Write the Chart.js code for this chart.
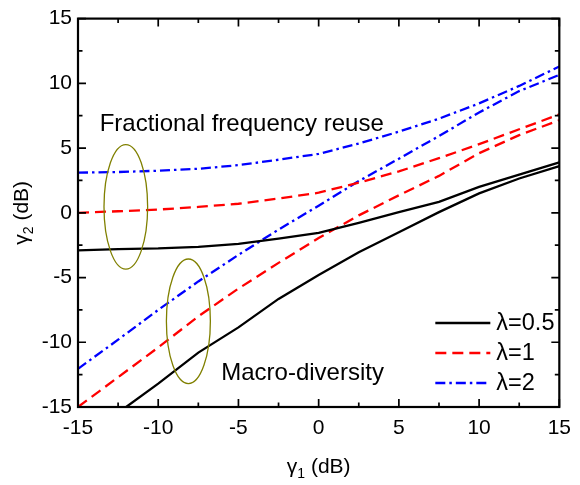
<!DOCTYPE html>
<html>
<head>
<meta charset="utf-8">
<script src="https://cdn.jsdelivr.net/npm/chart.js@4/dist/chart.umd.min.js"></script>
<style>
  html, body { margin: 0; padding: 0; background: #fff; }
  #c { display: block; }
</style>
</head>
<body>
<canvas id="c" width="580" height="485"></canvas>
<script>
// γ1 sample points (dB) shared by most curves
const gamma1 = [-15, -12.5, -10, -7.5, -5, -2.5, 0, 2.5, 5, 7.5, 10, 12.5, 15];

// Fractional frequency reuse boundaries, γ2 (dB)
const ffrHalf = [-2.9, -2.8, -2.75, -2.63, -2.4, -2.0, -1.55, -0.78, 0.05, 0.85, 2.0, 2.95, 3.9];
const ffrOne  = [0.0, 0.12, 0.25, 0.45, 0.7, 1.1, 1.55, 2.33, 3.2, 4.22, 5.3, 6.45, 7.6];
const ffrTwo  = [3.1, 3.15, 3.25, 3.4, 3.68, 4.1, 4.55, 5.35, 6.27, 7.27, 8.45, 9.8, 11.3];

// Macro-diversity boundaries, γ2 (dB)
const mdHalfX = [-12, -10, -7.5, -5, -2.5, 0, 2.5, 5, 7.5, 10, 12.5, 15];
const mdHalf  = [-15, -13.2, -10.8, -8.85, -6.65, -4.8, -3.05, -1.5, 0.05, 1.5, 2.65, 3.6];
const mdOne   = [-15, -12.7, -10.4, -8.0, -5.85, -3.87, -1.95, -0.2, 1.35, 2.85, 4.6, 6.0, 7.15];
const mdTwo   = [-12.05, -9.8, -7.5, -5.3, -3.25, -1.3, 0.55, 2.45, 4.18, 5.93, 7.75, 9.4, 10.65];

// Series names
const lambdaLabels = ['λ=0.5', 'λ=1', 'λ=2'];

// Axis ticks
const majorTicks = [-15, -10, -5, 0, 5, 10, 15];
const minorTicks = [-12.5, -7.5, -2.5, 2.5, 7.5, 12.5];

// Axis titles: symbol, subscript, unit
const xTitle = ['γ', '1', ' (dB)'];
const yTitle = ['γ', '2', ' (dB)'];

// Region notes and the ellipses grouping each family of curves
const regionNames = ['Fractional frequency reuse', 'Macro-diversity'];
const regionX = [-13.65, -6.07];
const regionY = [6.32, -12.89];
const ringX  = [-12.02, -8.12];
const ringY  = [0.46, -8.38];
const ringRx = [1.36, 1.37];
const ringRy = [4.81, 4.81];

const FONT = '"Liberation Sans", Arial, Helvetica, sans-serif';

const pts = (xs, ys) => xs.map((x, i) => ({ x, y: ys[i] }));

const styles = [
  { borderColor: '#000000', borderDash: [] },
  { borderColor: '#ff0000', borderDash: [11, 6] },
  { borderColor: '#0000ff', borderDash: [10, 4, 2.5, 4] }
];

const mk = (label, data, st) => ({
  label, data,
  borderColor: st.borderColor,
  borderDash: st.borderDash,
  borderWidth: 2.3,
  pointRadius: 0,
  tension: 0,
  fill: false
});

const datasets = [
  mk(lambdaLabels[0], pts(gamma1, ffrHalf), styles[0]),
  mk(lambdaLabels[1], pts(gamma1, ffrOne), styles[1]),
  mk(lambdaLabels[2], pts(gamma1, ffrTwo), styles[2]),
  mk(lambdaLabels[0], pts(mdHalfX, mdHalf), styles[0]),
  mk(lambdaLabels[1], pts(gamma1, mdOne), styles[1]),
  mk(lambdaLabels[2], pts(gamma1, mdTwo), styles[2])
];

// Axis title with a true subscript, centred at (cx, baseline) and rotated by rot
function subTitle(ctx, parts, cx, base, rot) {
  const big = '21px ' + FONT, small = '14px ' + FONT;
  ctx.save();
  ctx.translate(cx, base);
  ctx.rotate(rot);
  ctx.textAlign = 'left';
  ctx.textBaseline = 'alphabetic';
  ctx.fillStyle = '#000';
  ctx.font = big;  const w0 = ctx.measureText(parts[0]).width;
  ctx.font = small; const w1 = ctx.measureText(parts[1]).width;
  ctx.font = big;  const w2 = ctx.measureText(parts[2]).width;
  let x = -(w0 + w1 + w2) / 2;
  ctx.font = big;   ctx.fillText(parts[0], x, 0); x += w0;
  ctx.font = small; ctx.fillText(parts[1], x, 5); x += w1;
  ctx.font = big;   ctx.fillText(parts[2], x, 0);
  ctx.restore();
}

const decorations = {
  id: 'decorations',
  afterDatasetsDraw(chart) {
    const { ctx, chartArea: a, scales: { x, y } } = chart;
    ctx.save();

    // ellipses
    ctx.strokeStyle = '#808000';
    ctx.lineWidth = 1.3;
    ctx.setLineDash([]);
    ringX.forEach((cx, i) => {
      const px = x.getPixelForValue(cx);
      const py = y.getPixelForValue(ringY[i]);
      const rx = Math.abs(x.getPixelForValue(cx + ringRx[i]) - px);
      const ry = Math.abs(y.getPixelForValue(ringY[i] + ringRy[i]) - py);
      ctx.beginPath();
      ctx.ellipse(px, py, rx, ry, 0, 0, Math.PI * 2);
      ctx.stroke();
    });

    // region notes
    ctx.fillStyle = '#000';
    ctx.font = '24px ' + FONT;
    ctx.textAlign = 'left';
    ctx.textBaseline = 'alphabetic';
    regionNames.forEach((t, i) => {
      ctx.fillText(t, x.getPixelForValue(regionX[i]), y.getPixelForValue(regionY[i]));
    });

    // frame
    ctx.strokeStyle = '#000';
    ctx.lineWidth = 2.2;
    ctx.strokeRect(a.left, a.top, a.right - a.left, a.bottom - a.top);

    // inward tick marks on all four sides
    ctx.lineWidth = 1.7;
    const tick = (vals, len) => {
      vals.forEach(v => {
        const px = x.getPixelForValue(v);
        const py = y.getPixelForValue(v);
        ctx.beginPath();
        ctx.moveTo(px, a.bottom); ctx.lineTo(px, a.bottom - len);
        ctx.moveTo(px, a.top); ctx.lineTo(px, a.top + len);
        ctx.moveTo(a.left, py); ctx.lineTo(a.left + len, py);
        ctx.moveTo(a.right, py); ctx.lineTo(a.right - len, py);
        ctx.stroke();
      });
    };
    tick(majorTicks, 8);
    tick(minorTicks, 4.5);

    // axis titles
    subTitle(ctx, xTitle, (a.left + a.right) / 2, x.bottom - 12, 0);
    subTitle(ctx, yTitle, y.left + 28, (a.top + a.bottom) / 2, -Math.PI / 2);

    // key
    ctx.font = '23.5px ' + FONT;
    ctx.textBaseline = 'middle';
    const lineStart = a.right - 124;
    const lineLen = 55;
    lambdaLabels.forEach((lab, i) => {
      const ds = chart.data.datasets[i];
      const ry = a.bottom - 84 + i * 30;
      ctx.strokeStyle = ds.borderColor;
      ctx.lineWidth = 2.3;
      ctx.setLineDash(ds.borderDash);
      ctx.beginPath();
      ctx.moveTo(lineStart, ry);
      ctx.lineTo(lineStart + lineLen, ry);
      ctx.stroke();
      ctx.setLineDash([]);
      ctx.fillStyle = '#000';
      ctx.fillText(lab, lineStart + lineLen + 6, ry + 1);
    });

    ctx.restore();
  }
};

const axisCommon = () => ({
  type: 'linear',
  min: -15,
  max: 15,
  afterBuildTicks: s => { s.ticks = majorTicks.map(v => ({ value: v })); },
  grid: { display: false, drawTicks: false },
  border: { display: false },
  ticks: {
    color: '#000',
    font: { family: FONT, size: 21 },
    autoSkip: false,
    maxRotation: 0
  },
  title: { display: false }
});

const xAxis = axisCommon();
xAxis.position = 'bottom';
xAxis.ticks.padding = 9;
xAxis.afterFit = s => { s.height = 78; };

const yAxis = axisCommon();
yAxis.position = 'left';
yAxis.ticks.padding = 6;
yAxis.afterFit = s => { s.width = 78; };

new Chart(document.getElementById('c'), {
  type: 'line',
  data: { datasets },
  options: {
    responsive: false,
    animation: false,
    devicePixelRatio: 1,
    layout: { padding: { left: 0, right: 14, top: 14, bottom: 0 } },
    plugins: {
      legend: { display: false },
      tooltip: { enabled: false }
    },
    scales: { x: xAxis, y: yAxis }
  },
  plugins: [decorations]
});
</script>
</body>
</html>
